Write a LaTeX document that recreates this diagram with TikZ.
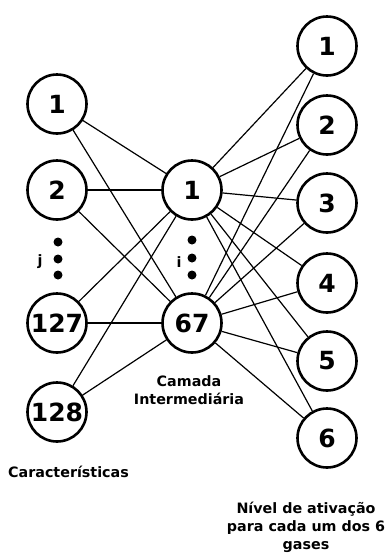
\documentclass[tikz,border=0pt]{standalone}
\usepackage{fontspec}
\setmainfont{DejaVu Sans}
\begin{document}
\begin{tikzpicture}[x=1pt,y=-1pt,
  neuron/.style={circle,draw,line width=2.6pt,minimum size=59pt,inner sep=0pt,
    font=\fontsize{25}{30}\selectfont\bfseries},
  link/.style={line width=1.2pt},
  dotmark/.style={circle,fill,inner sep=0pt,minimum size=9pt},
  caption/.style={font=\fontsize{14.3}{18}\selectfont\bfseries,align=center,inner sep=0pt}]
\useasboundingbox (0,0) rectangle (387,555);

% input layer
\node[neuron] (l1)   at (57,104) {1};
\node[neuron] (l2)   at (57,190) {2};
\node[neuron] (l127) at (57,323) {127};
\node[neuron] (l128) at (57,412) {128};

% hidden layer
\node[neuron] (m1)  at (192,190) {1};
\node[neuron] (m67) at (192,323) {67};

% output layer
\node[neuron] (r1) at (327,46)  {1};
\node[neuron] (r2) at (327,125) {2};
\node[neuron] (r3) at (327,203) {3};
\node[neuron] (r4) at (327,283) {4};
\node[neuron] (r5) at (327,361) {5};
\node[neuron] (r6) at (327,438) {6};

% connections
\begin{scope}[on background layer/.try]
\foreach \a in {l1,l2,l127,l128}
  \foreach \b in {m1,m67}
    \draw[link] (\a) -- (\b);
\foreach \a in {m1,m67}
  \foreach \b in {r1,r2,r3,r4,r5,r6}
    \draw[link] (\a) -- (\b);
\end{scope}

% ellipsis dots with index labels
\node[dotmark] (j1) at (58,242) {};
\node[dotmark] (j2) at (58,259) {};
\node[dotmark] (j3) at (58,275) {};
\node[caption] (jl) at (40,262) {j};
\node[dotmark] (i1) at (192,240) {};
\node[dotmark] (i2) at (192,258) {};
\node[dotmark] (i3) at (192,275) {};
\node[caption] (il) at (179,262) {i};

% layer captions
\node[caption] (cin)  at (68.5,472) {Características};
\node[caption] (chid) at (189,390) {Camada\\Intermediária};
\node[caption,anchor=north] (cout) at (306,502) {Nível de ativação\\para cada um dos 6\\gases};
\end{tikzpicture}
\end{document}
